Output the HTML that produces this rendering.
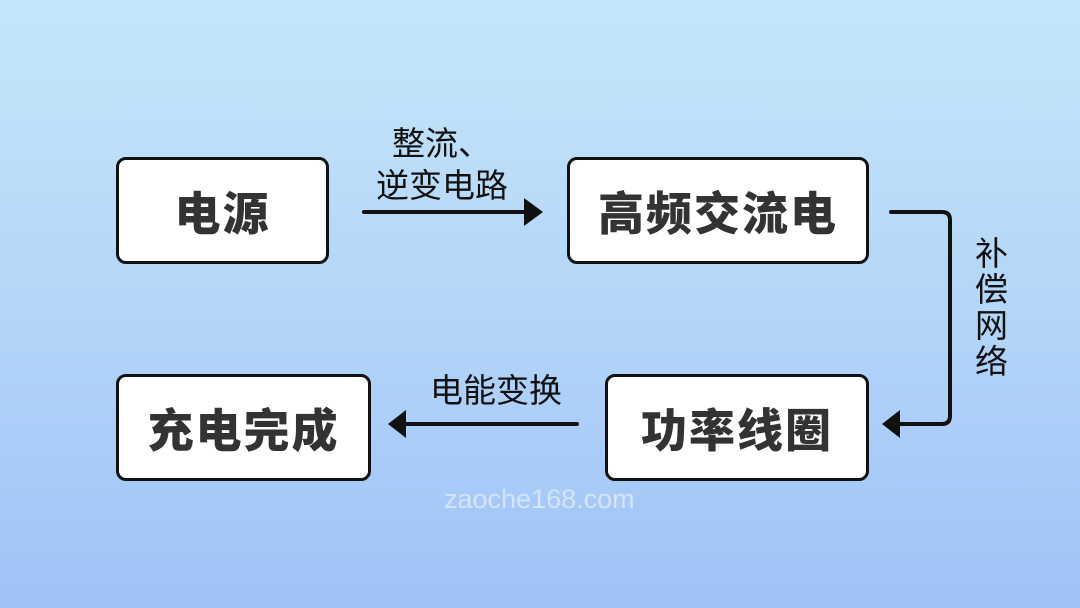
<!DOCTYPE html>
<html><head><meta charset="utf-8"><style>
body{margin:0;width:1080px;height:608px;overflow:hidden;background:linear-gradient(#c4e6fa,#b4d6f8 50%,#9fc2f7);font-family:"Liberation Sans","Noto Sans CJK SC",sans-serif;position:relative}
.b{position:absolute;box-sizing:border-box;background:#fff;border:3.5px solid #111;border-radius:10px;display:flex;align-items:center;justify-content:center;font-weight:900;font-size:46px;color:#333;letter-spacing:2px}
.t{position:absolute;font-size:33px;color:#111;line-height:40px;white-space:nowrap}
</style></head><body>
<div class="b" style="left:116px;top:157px;width:213px;height:107px">电源</div>
<div class="b" style="left:567px;top:157px;width:302px;height:107px">高频交流电</div>
<div class="b" style="left:605px;top:374px;width:264px;height:107px">功率线圈</div>
<div class="b" style="left:116px;top:374px;width:255px;height:107px">充电完成</div>
<div class="t" style="left:392px;top:124px">整流、</div>
<div class="t" style="left:376px;top:166px">逆变电路</div>
<div class="t" style="left:430px;top:371px">电能变换</div>
<div class="t" style="left:975px;top:236px;width:34px;line-height:36px;white-space:normal">补偿网络</div>
<div style="position:absolute;left:444px;top:484px;font-size:27px;color:rgba(255,255,255,0.5)">zaoche168.com</div>
<svg width="1080" height="608" style="position:absolute;left:0;top:0">
<g stroke="#111" stroke-width="4" fill="none" stroke-linecap="round">
<line x1="364" y1="212" x2="526" y2="212"/>
<path d="M891 212 H942 Q950 212 950 220 V416 Q950 424 942 424 H898"/>
<line x1="577" y1="424" x2="404" y2="424"/>
</g>
<g fill="#111">
<polygon points="524,198 543,212 524,226"/>
<polygon points="900,410 882,424 900,438"/>
<polygon points="406,410 388,424 406,438"/>
</g>
</svg>
</body></html>
